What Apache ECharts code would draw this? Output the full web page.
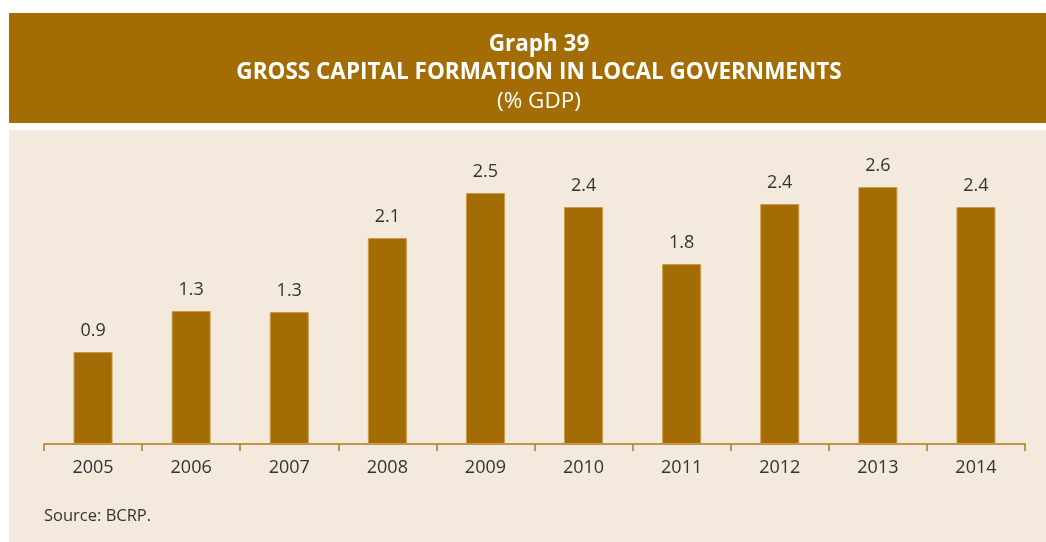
<!DOCTYPE html>
<html>
<head>
<meta charset="utf-8">
<script src="https://cdn.jsdelivr.net/npm/echarts@6/dist/echarts.min.js"></script>
<style>
  html, body { margin: 0; padding: 0; background: #ffffff; }
  #chart { width: 1046px; height: 542px; }
</style>
</head>
<body>
<div id="chart"></div>
<script>
// values (% of GDP)
const years = ['2005', '2006', '2007', '2008', '2009', '2010', '2011', '2012', '2013', '2014']
const gcf = [0.92, 1.33, 1.32, 2.06, 2.51, 2.37, 1.80, 2.40, 2.57, 2.37]

const brown = '#a46c05'
const panel = '#f3eadd'
const font = '"Open Sans", "Noto Sans", sans-serif'

const chart = echarts.init(document.getElementById('chart'))
chart.setOption({
  backgroundColor: '#ffffff',
  animation: false,
  graphic: [
    { type: 'rect', z: -10, shape: { x: 9, y: 13, width: 1060, height: 110 }, style: { fill: brown } },
    { type: 'rect', z: -10, shape: { x: 9, y: 130, width: 1060, height: 420 }, style: { fill: panel } },
    {
      type: 'text', left: 44, top: 508,
      style: { text: 'Source: BCRP.', font: '16.5px ' + font, fill: '#333333' }
    }
  ],
  title: [
    {
      text: 'Graph 39', left: 534, top: 28, textAlign: 'center',
      textStyle: { color: '#fff', fontSize: 22.5, fontWeight: 'bold', fontFamily: font }
    },
    {
      text: 'GROSS CAPITAL FORMATION IN LOCAL GOVERNMENTS', left: 534, top: 56, textAlign: 'center',
      textStyle: { color: '#fff', fontSize: 22.5, fontWeight: 'bold', fontFamily: font }
    },
    {
      text: '(% GDP)', left: 534, top: 85, textAlign: 'center',
      textStyle: { color: '#fff', fontSize: 22.5, fontWeight: 'normal', fontFamily: font }
    }
  ],
  grid: { left: 44, right: 21, top: 144, bottom: 98, containLabel: false },
  xAxis: {
    type: 'category',
    data: years,
    axisLine: { lineStyle: { color: '#b07a1a', width: 1.5 } },
    axisTick: { show: true, length: 7, lineStyle: { color: '#b07a1a', width: 1.5 } },
    axisLabel: { color: '#333333', fontSize: 18, fontFamily: font, margin: 15 }
  },
  yAxis: {
    type: 'value', min: 0, max: 3, show: false,
    splitLine: { show: false }
  },
  series: [{
    type: 'bar',
    data: gcf,
    barWidth: 39,
    itemStyle: { color: brown, borderColor: '#c99a4a', borderWidth: 1 },
    label: {
      show: true, position: 'top', distance: 12,
      color: '#333333', fontSize: 18, fontFamily: font,
      formatter: p => p.value.toFixed(1)
    }
  }]
})
</script>
</body>
</html>
